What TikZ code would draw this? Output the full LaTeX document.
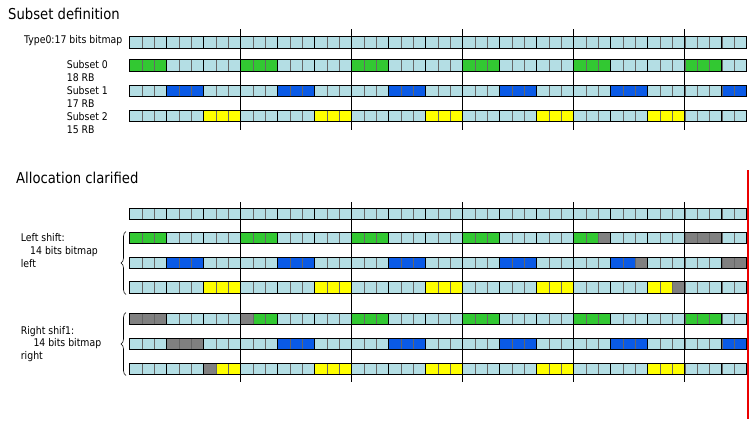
\documentclass[tikz,border=0pt]{standalone}
\usepackage{fontspec}
\setmainfont{DejaVu Sans}[FakeStretch=0.88]
\usetikzlibrary{decorations.pathreplacing}

\definecolor{rbfill}{RGB}{180,222,228}
\definecolor{rbgreen}{RGB}{50,200,50}
\definecolor{rbblue}{RGB}{10,90,230}
\definecolor{rbyellow}{RGB}{255,255,0}
\definecolor{rbgray}{RGB}{128,128,128}
\definecolor{edgered}{RGB}{235,0,0}

\newcommand{\cw}{12.34}
\newcommand{\xo}{129.5}
\newcommand{\rh}{11.5}

% one row: 50 RBs in 17 RBGs, #2 = first/last/colour
\newcommand{\rbrow}[2]{%
  \foreach \c in {0,...,49}
    \draw[rbcell] ({\xo+\c*\cw},{#1-\rh/2}) rectangle ++(\cw,\rh);
  \foreach \a/\b/\col in {#2}
    \foreach \c in {\a,...,\b}
      \draw[rbcell, fill=\col] ({\xo+\c*\cw},{#1-\rh/2}) rectangle ++(\cw,\rh);
  \foreach \g in {0,...,16}{
    \pgfmathsetmacro{\gend}{min(3*\g+3,50)}
    \draw[rbgbox] ({\xo+3*\g*\cw},{#1-\rh/2}) rectangle ({\xo+\gend*\cw},{#1+\rh/2});
  }%
}

\begin{document}
\begin{tikzpicture}[
  x=1pt, y=-1pt,
  font=\fontsize{10.6}{12}\selectfont,
  txtlabel/.style={
    anchor=base west,
    inner sep=0pt
  },
  txttitle/.style={
    anchor=base west,
    inner sep=0pt,
    font=\fontsize{15}{18}\selectfont
  },
  rbcell/.style={
    draw=black!60,
    fill=rbfill,
    line width=0.6pt
  },
  rbgbox/.style={
    draw=black,
    line width=1.3pt
  },
  sepline/.style={
    draw=black,
    line width=0.8pt
  },
  rbbrace/.style={
    draw=black,
    line width=0.6pt,
    decorate,
    decoration={brace, amplitude=5pt, aspect=0.5}
  }
]
\useasboundingbox (0,0) rectangle (750,421);

% ---------------- Subset definition ----------------
\node[txttitle] (deftitle) at (8,19.5) {Subset definition};

\foreach \k in {1,...,5}
  \draw[sepline] ({\xo+9*\k*\cw},29) -- ({\xo+9*\k*\cw},130);

\node[txtlabel, anchor=base east] (typezero) at (122.5,43.3) {Type0:17 bits bitmap};
\node[txtlabel] (subzero) at (66.7,68.3) {Subset 0};
\node[txtlabel] (subzerorb) at (66.7,81) {18 RB};
\node[txtlabel] (subone) at (66.7,94.3) {Subset 1};
\node[txtlabel] (subonerb) at (66.7,107.3) {17 RB};
\node[txtlabel] (subtwo) at (66.7,120.7) {Subset 2};
\node[txtlabel] (subtworb) at (66.7,133.5) {15 RB};

\rbrow{42.5}{0/0/rbfill}
\rbrow{65.5}{0/2/rbgreen, 9/11/rbgreen, 18/20/rbgreen, 27/29/rbgreen, 36/38/rbgreen, 45/47/rbgreen}
\rbrow{91}{3/5/rbblue, 12/14/rbblue, 21/23/rbblue, 30/32/rbblue, 39/41/rbblue, 48/49/rbblue}
\rbrow{116}{6/8/rbyellow, 15/17/rbyellow, 24/26/rbyellow, 33/35/rbyellow, 42/44/rbyellow}

% ---------------- Allocation clarified ----------------
\node[txttitle] (alloctitle) at (16,183.3) {Allocation clarified};

\foreach \k in {1,...,5}
  \draw[sepline] ({\xo+9*\k*\cw},202) -- ({\xo+9*\k*\cw},382);

\node[txtlabel] (leftshift) at (20.7,241.7) {Left shift:};
\node[txtlabel] (leftbits) at (30,254.3) {14 bits bitmap};
\node[txtlabel] (leftword) at (20.7,267.3) {left};
\node[txtlabel] (rightshift) at (20.7,334) {Right shif1:};
\node[txtlabel] (rightbits) at (33.3,346.7) {14 bits bitmap};
\node[txtlabel] (rightword) at (20.7,359.3) {right};

\coordinate (lbtop) at (126,231.5);
\coordinate (lbbot) at (126,294.5);
\coordinate (rbtop) at (126,312.5);
\coordinate (rbbot) at (126,375.5);
\draw[rbbrace] (lbbot) -- (lbtop);
\draw[rbbrace] (rbbot) -- (rbtop);

\rbrow{214}{0/0/rbfill}
% left shift
\rbrow{238}{0/2/rbgreen, 9/11/rbgreen, 18/20/rbgreen, 27/29/rbgreen, 36/37/rbgreen, 38/38/rbgray, 45/47/rbgray}
\rbrow{263}{3/5/rbblue, 12/14/rbblue, 21/23/rbblue, 30/32/rbblue, 39/40/rbblue, 41/41/rbgray, 48/49/rbgray}
\rbrow{287.5}{6/8/rbyellow, 15/17/rbyellow, 24/26/rbyellow, 33/35/rbyellow, 42/43/rbyellow, 44/44/rbgray}
% right shift
\rbrow{319}{0/2/rbgray, 9/9/rbgray, 10/11/rbgreen, 18/20/rbgreen, 27/29/rbgreen, 36/38/rbgreen, 45/47/rbgreen}
\rbrow{344}{3/5/rbgray, 12/14/rbblue, 21/23/rbblue, 30/32/rbblue, 39/41/rbblue, 48/49/rbblue}
\rbrow{369}{6/6/rbgray, 7/8/rbyellow, 15/17/rbyellow, 24/26/rbyellow, 33/35/rbyellow, 42/44/rbyellow}

% marker at the band edge
\coordinate (edgetop) at (747.5,170);
\coordinate (edgebot) at (747.5,419);
\draw[draw=edgered, line width=2pt] (edgetop) -- (edgebot);

\end{tikzpicture}
\end{document}
